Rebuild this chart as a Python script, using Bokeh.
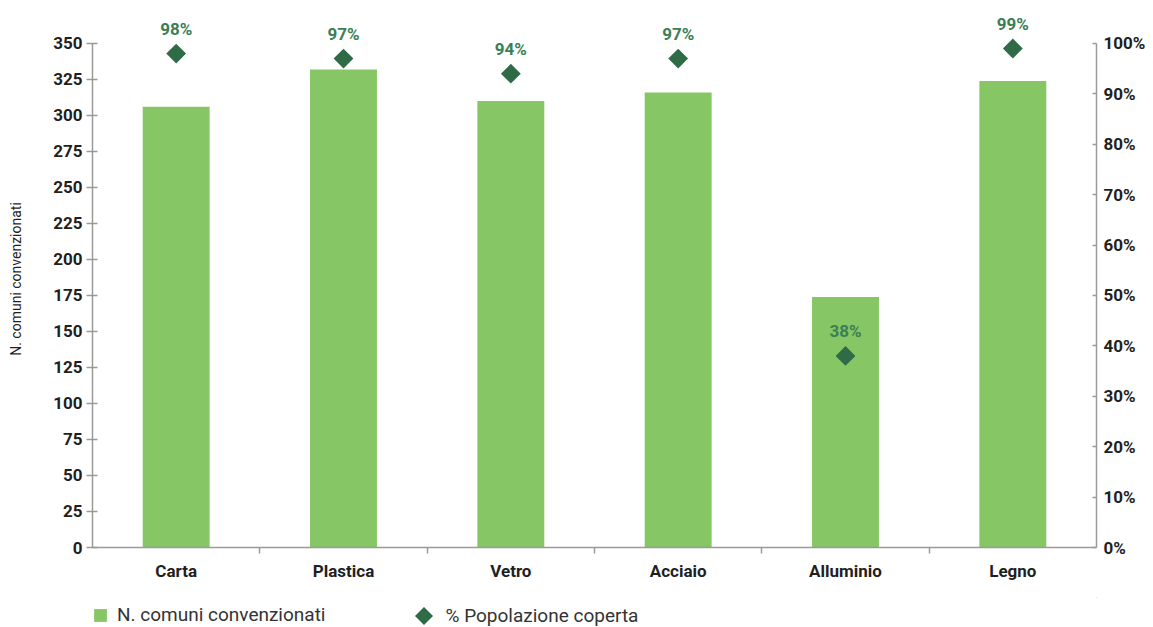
import math
from bokeh.plotting import figure
from bokeh.layouts import column
from bokeh.models import (ColumnDataSource, Range1d, LinearAxis, FixedTicker,
                          Legend, LegendItem, LabelSet)
from bokeh.core.properties import value
from bokeh.embed import file_html
from bokeh.resources import INLINE

categories = ["Carta", "Plastica", "Vetro", "Acciaio", "Alluminio", "Legno"]
comuni = [306, 332, 310, 316, 174, 324]
popolazione = [98, 97, 94, 97, 38, 99]
left_ticks = list(range(0, 351, 25))
right_ticks = list(range(0, 101, 10))
legend_labels = ["N. comuni convenzionati", "% Popolazione coperta"]

BAR = "#86c665"
DIAMOND = "#2f6b47"
LABEL = "#3b7f55"
TEXT = "#1f1f1f"
AXIS = "#9a9a9a"
FONT = "Roboto"

xc = [i + 0.5 for i in range(len(categories))]
src = ColumnDataSource(dict(
    x=xc, cat=categories, comuni=comuni, pop=popolazione,
    pop_label=[f"{v}%" for v in popolazione],
))

y_end = 372.9
p = figure(width=1153, height=597, output_backend="svg", toolbar_location=None,
           x_range=Range1d(0, len(categories)), y_range=Range1d(0, y_end),
           min_border_left=92, min_border_right=57, min_border_top=10,
           min_border_bottom=50)
p.outline_line_color = None
p.grid.visible = False

p.extra_y_ranges = {"pct": Range1d(0, y_end / 350 * 100)}

bars = p.vbar(x="x", top="comuni", width=0.4, source=src, fill_color=BAR,
              line_color=None)
dia = p.scatter(x="x", y="pop", y_range_name="pct", source=src, marker="square",
                angle=math.pi / 4, size=14, fill_color=DIAMOND, line_color=None)

labels = LabelSet(x="x", y="pop", y_range_name="pct", text="pop_label", source=src,
                  text_align="center", text_baseline="middle", y_offset=25,
                  text_color=LABEL, text_font=value(FONT), text_font_size="17px",
                  text_font_style="bold")
p.add_layout(labels)


def style_axis(ax):
    ax.major_label_text_font = FONT
    ax.major_label_text_font_size = "17px"
    ax.major_label_text_font_style = "bold"
    ax.major_label_text_color = TEXT
    ax.axis_line_color = AXIS
    ax.axis_line_width = 1.5
    ax.major_tick_line_color = AXIS
    ax.major_tick_line_width = 1.5
    ax.minor_tick_line_color = AXIS
    ax.minor_tick_line_width = 1.5


# left axis
ya = p.yaxis[0]
style_axis(ya)
ya.ticker = FixedTicker(ticks=left_ticks)
ya.bounds = (0, 350)
ya.axis_label = "N. comuni convenzionati"
ya.axis_label_text_font = FONT
ya.axis_label_text_font_size = "14px"
ya.axis_label_text_font_style = "normal"
ya.axis_label_text_color = TEXT
ya.axis_label_standoff = 26
ya.major_label_standoff = 4
ya.major_tick_out = 6
ya.major_tick_in = 5
ya.minor_tick_out = 0
ya.minor_tick_in = 0

# right axis
ra = LinearAxis(y_range_name="pct", ticker=FixedTicker(ticks=right_ticks),
                bounds=(0, 100))
style_axis(ra)
ra.major_label_overrides = {t: f"{t}%" for t in right_ticks}
ra.major_label_standoff = 7
ra.major_tick_out = 0
ra.major_tick_in = 4
ra.minor_tick_out = 0
ra.minor_tick_in = 0
p.add_layout(ra, "right")

# bottom axis
xa = p.xaxis[0]
style_axis(xa)
xa.ticker = FixedTicker(ticks=xc, minor_ticks=list(range(1, len(categories))))
xa.major_label_overrides = {x: c for x, c in zip(xc, categories)}
xa.major_tick_out = 0
xa.major_tick_in = 0
xa.minor_tick_out = 6
xa.minor_tick_in = 0
xa.major_label_standoff = 7

# legend strip (its renderers use the chart's data, kept outside the visible range)
lg = figure(width=1153, height=30, output_backend="svg", toolbar_location=None,
            x_range=Range1d(-20, -10), y_range=Range1d(-20, -10),
            min_border=0, outline_line_color=None)
lg.axis.visible = False
lg.grid.visible = False
lbar = lg.vbar(x="x", top="comuni", width=0.4, source=src, fill_color=BAR,
               line_color=None)
try:
    ldia = lg.ngon(x="x", y="pop", radius=0.1, n=4, source=src,
                   fill_color=DIAMOND, line_color=None)
except Exception:
    ldia = lg.scatter(x="x", y="pop", source=src, marker="diamond",
                      fill_color=DIAMOND, line_color=None)
dia_box = 45

common = dict(orientation="horizontal", border_line_color=None,
              background_fill_alpha=0, label_text_font=FONT,
              label_text_font_size="19px", label_text_color="#333333",
              padding=0, margin=0, spacing=0)
leg1 = Legend(items=[LegendItem(label=legend_labels[0], renderers=[lbar])],
              location=(0, 1), glyph_width=16, glyph_height=16,
              label_standoff=9, **common)
leg2 = Legend(items=[LegendItem(label=legend_labels[1], renderers=[ldia])],
              location=(331 - dia_box / 2, 1 - (dia_box - 22) / 2),
              glyph_width=dia_box, glyph_height=dia_box,
              label_standoff=-5, **common)
lg.add_layout(leg1)
lg.add_layout(leg2)

open("out.html", "w").write(file_html(column(p, lg, spacing=0), INLINE))
